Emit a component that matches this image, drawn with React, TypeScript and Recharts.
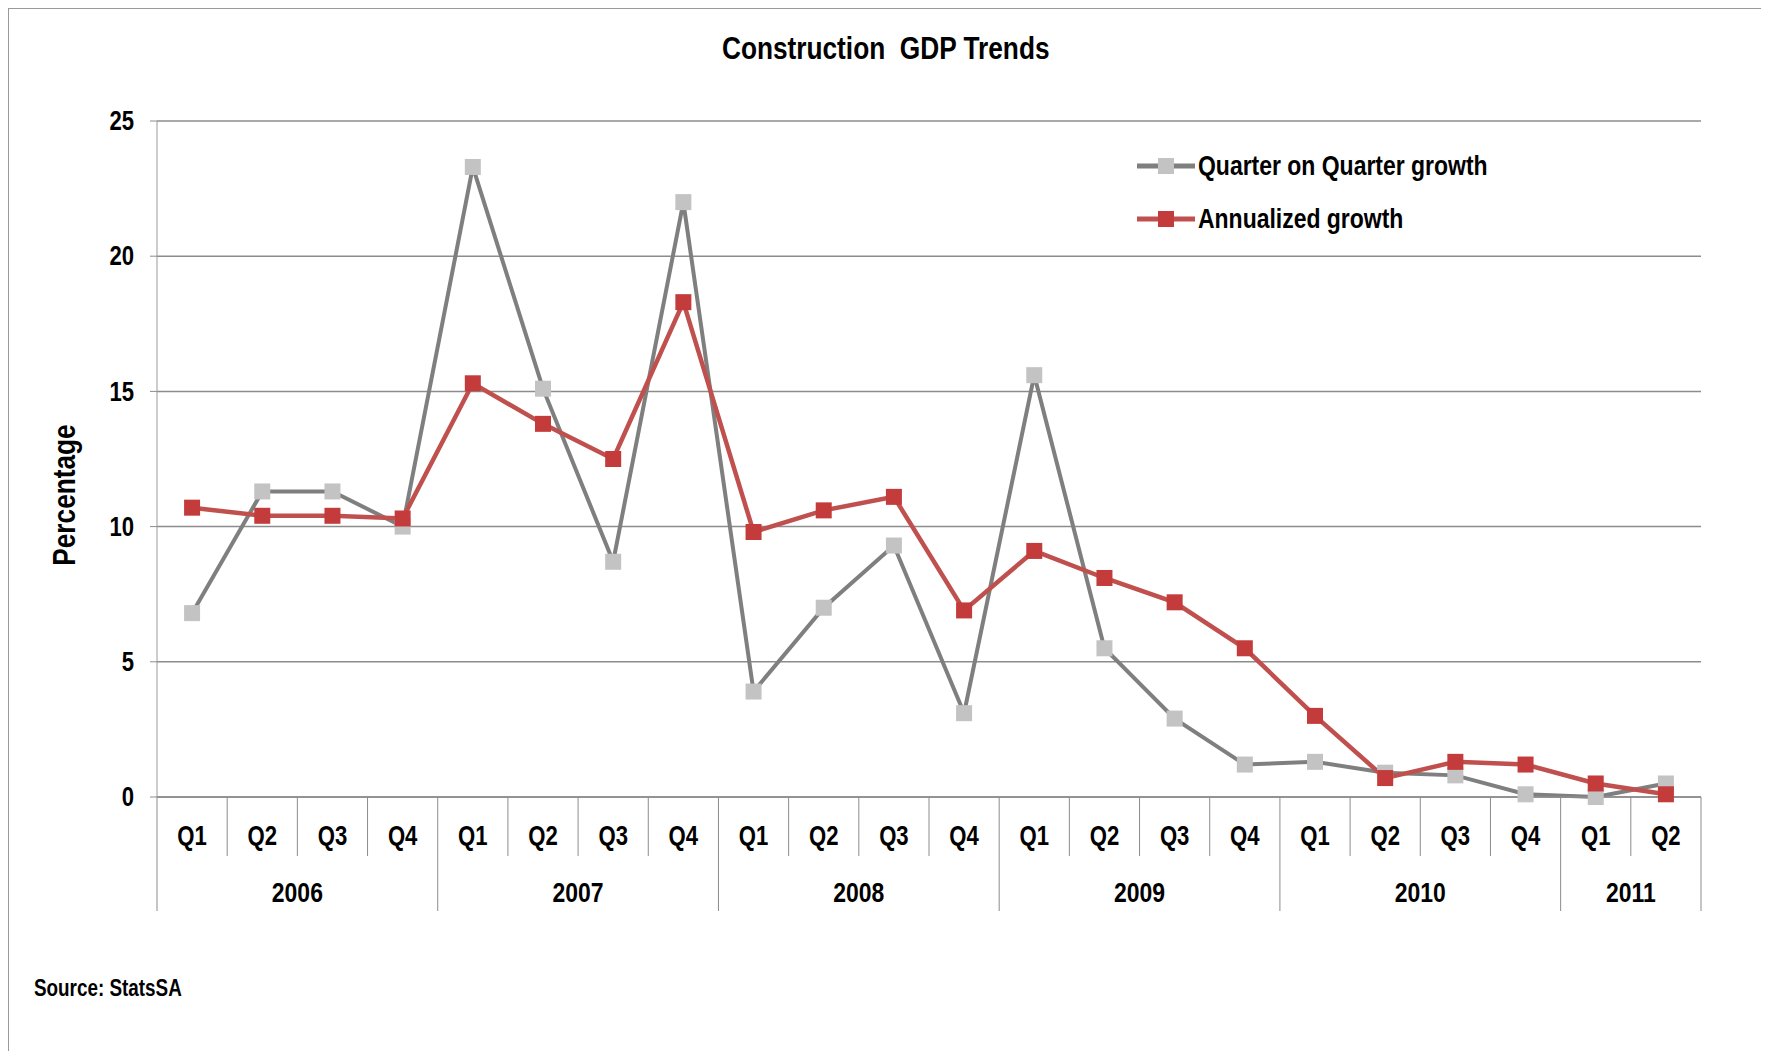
import { CartesianGrid, Line, LineChart, XAxis, YAxis } from "recharts";

const quarters = [
  "Q1", "Q2", "Q3", "Q4",
  "Q1", "Q2", "Q3", "Q4",
  "Q1", "Q2", "Q3", "Q4",
  "Q1", "Q2", "Q3", "Q4",
  "Q1", "Q2", "Q3", "Q4",
  "Q1", "Q2",
];

const years = [
  "2006", "2006", "2006", "2006",
  "2007", "2007", "2007", "2007",
  "2008", "2008", "2008", "2008",
  "2009", "2009", "2009", "2009",
  "2010", "2010", "2010", "2010",
  "2011", "2011",
];

const quarterOnQuarter = [
  6.8, 11.3, 11.3, 10.0,
  23.3, 15.1, 8.7, 22.0,
  3.9, 7.0, 9.3, 3.1,
  15.6, 5.5, 2.9, 1.2,
  1.3, 0.9, 0.8, 0.1,
  0.0, 0.5,
];

const annualized = [
  10.7, 10.4, 10.4, 10.3,
  15.3, 13.8, 12.5, 18.3,
  9.8, 10.6, 11.1, 6.9,
  9.1, 8.1, 7.2, 5.5,
  3.0, 0.7, 1.3, 1.2,
  0.5, 0.1,
];

const yTicks = [0, 5, 10, 15, 20, 25];

const data = quarters.map((q, i) => ({
  period: `${years[i]} ${q}`,
  qoq: quarterOnQuarter[i],
  ann: annualized[i],
}));

const FONT = "'Liberation Sans', Arial, sans-serif";
const SQUEEZE = 0.82;
const GRID = "#8c8c8c";
const GRAY_LINE = "#7f7f7f";
const GRAY_MARK = "#c3c3c3";
const RED_LINE = "#c0504d";
const RED_MARK = "#c33b3b";

const W = 1760;
const H = 1040;
const MARGIN = { top: 112, right: 68, bottom: 132, left: 88 };
const Y_AXIS_W = 60;
const X_AXIS_H = 120;
const PLOT_W = W - MARGIN.left - MARGIN.right - Y_AXIS_W;
const BAND = PLOT_W / quarters.length;

function Label(props: any) {
  const { x, y, size, anchor = "middle", rotate = 0, children } = props;
  return (
    <text
      transform={`translate(${x},${y}) rotate(${rotate}) scale(${SQUEEZE},1)`}
      textAnchor={anchor}
      dominantBaseline="central"
      fontFamily={FONT}
      fontWeight="bold"
      fontSize={size}
      fill="#000"
    >
      {children}
    </text>
  );
}

function QuarterTick(props: any) {
  const { x, y, index } = props;
  const half = BAND / 2;
  const left = x - half;
  const startsYear = index === 0 || years[index] !== years[index - 1];
  const isLast = index === quarters.length - 1;
  const count = years.filter((yr) => yr === years[index]).length;
  return (
    <g>
      <line x1={left} x2={left} y1={y} y2={y + (startsYear ? 114 : 59)} stroke={GRID} strokeWidth={1} />
      {isLast && (
        <line x1={x + half} x2={x + half} y1={y} y2={y + 114} stroke={GRID} strokeWidth={1} />
      )}
      <Label x={x} y={y + 39} size={27}>
        {quarters[index]}
      </Label>
      {startsYear && (
        <Label x={left + (count * BAND) / 2} y={y + 95} size={28}>
          {years[index]}
        </Label>
      )}
    </g>
  );
}

function ValueTick(props: any) {
  const { x, y, payload } = props;
  return (
    <Label x={x} y={y} size={27} anchor="end">
      {payload.value}
    </Label>
  );
}

function squareDot(color: string, size: number, prefix: string) {
  return (p: any) => (
    <rect
      key={`${prefix}-${p.index}`}
      x={p.cx - size / 2}
      y={p.cy - size / 2}
      width={size}
      height={size}
      fill={color}
    />
  );
}

const legendItems = [
  { name: "Quarter on Quarter growth", line: GRAY_LINE, mark: GRAY_MARK },
  { name: "Annualized growth", line: RED_LINE, mark: RED_MARK },
];

const squeezed = (extra: any = {}) => ({
  display: "inline-block",
  transform: `scaleX(${SQUEEZE})`,
  fontWeight: "bold",
  color: "#000",
  whiteSpace: "pre" as const,
  ...extra,
});

export default function App() {
  return (
    <div
      style={{
        position: "relative",
        width: 1762,
        height: 1045,
        borderTop: "1px solid #9a9a9a",
        borderLeft: "1px solid #9a9a9a",
        boxSizing: "border-box",
        background: "#fff",
        fontFamily: FONT,
      }}
    >
      <style>{`body{margin:8px;overflow:hidden;background:#fff}`}</style>
      <div
        style={{
          position: "absolute",
          left: 0,
          top: 21,
          width: 1753,
          textAlign: "center",
        }}
      >
        <span style={squeezed({ fontSize: 32, transformOrigin: "center" })}>{"Construction  GDP Trends"}</span>
      </div>

      <LineChart width={W} height={H} data={data} margin={MARGIN}>
        <CartesianGrid vertical={false} stroke={GRID} strokeWidth={1.5} />
        <XAxis
          dataKey="period"
          interval={0}
          padding={{ left: BAND / 2, right: BAND / 2 }}
          height={X_AXIS_H}
          axisLine={{ stroke: GRID, strokeWidth: 1.5 }}
          tickLine={false}
          tickSize={0}
          tickMargin={0}
          tick={<QuarterTick />}
        />
        <YAxis
          domain={[0, 25]}
          ticks={yTicks}
          width={Y_AXIS_W}
          axisLine={{ stroke: "#9a9a9a", strokeWidth: 1 }}
          tickLine={{ stroke: GRID }}
          tickSize={7}
          tickMargin={16}
          tick={<ValueTick />}
          label={(p: any) => {
            const vb = p.viewBox;
            return (
              <Label x={vb.x - 33} y={vb.y + vb.height / 2 + 36} size={32} rotate={-90}>
                Percentage
              </Label>
            );
          }}
        />
        <Line
          dataKey="qoq"
          name="Quarter on Quarter growth"
          stroke={GRAY_LINE}
          strokeWidth={4}
          dot={squareDot(GRAY_MARK, 16, "g")}
          activeDot={false}
          isAnimationActive={false}
        />
        <Line
          dataKey="ann"
          name="Annualized growth"
          stroke={RED_LINE}
          strokeWidth={4.5}
          dot={squareDot(RED_MARK, 16, "r")}
          activeDot={false}
          isAnimationActive={false}
        />
      </LineChart>

      <div style={{ position: "absolute", left: 1128, top: 130 }}>
        {legendItems.map((it) => (
          <div key={it.name} style={{ display: "flex", alignItems: "center", height: 53 }}>
            <svg width={58} height={20} style={{ marginRight: 3, flex: "none" }}>
              <line x1={0} x2={58} y1={10} y2={10} stroke={it.line} strokeWidth={5} />
              <rect x={21} y={2} width={16} height={16} fill={it.mark} />
            </svg>
            <span style={squeezed({ fontSize: 28, transformOrigin: "left center" })}>{it.name}</span>
          </div>
        ))}
      </div>

      <div style={{ position: "absolute", left: 25, top: 966 }}>
        <span style={squeezed({ fontSize: 23, transformOrigin: "left center" })}>Source: StatsSA</span>
      </div>
    </div>
  );
}
